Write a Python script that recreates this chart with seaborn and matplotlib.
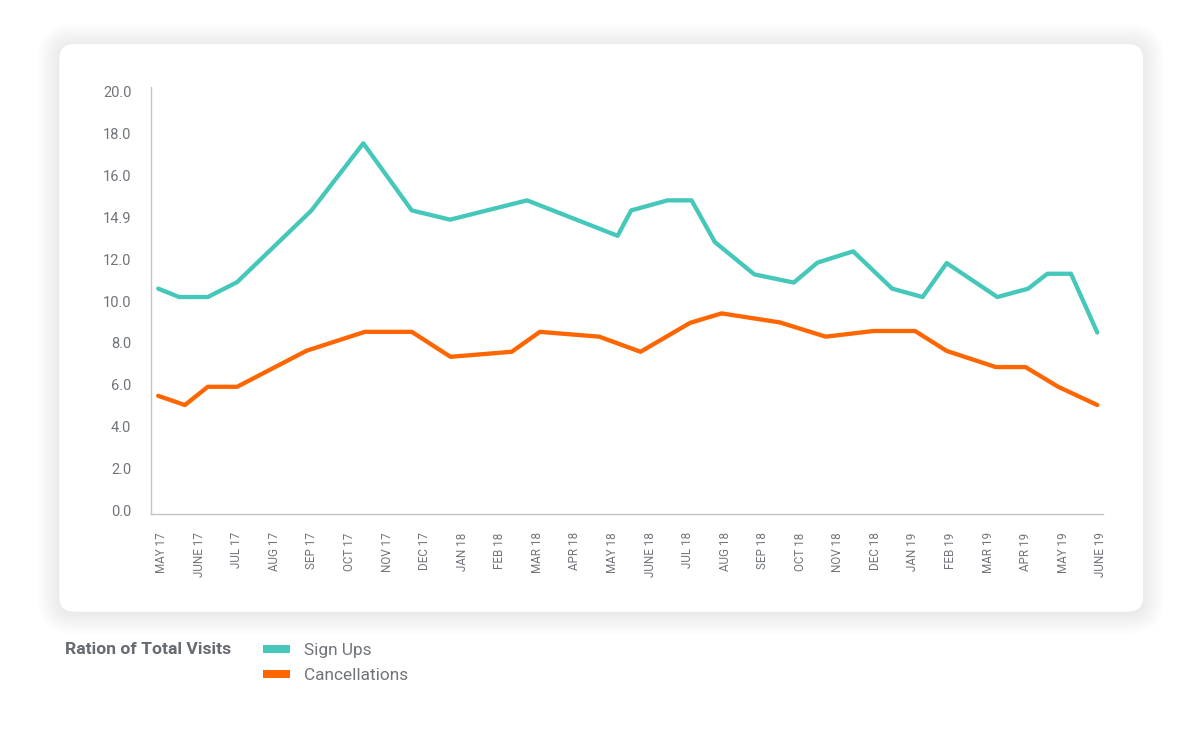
import numpy as np
import pandas as pd
import matplotlib
matplotlib.use("Agg")
import matplotlib.pyplot as plt
import matplotlib.transforms as mtransforms
from matplotlib.patches import FancyBboxPatch, Rectangle
import seaborn as sns

# ---------------- data ----------------
month_labels = ["MAY 17", "JUNE 17", "JUL 17", "AUG 17", "SEP 17", "OCT 17", "NOV 17",
                "DEC 17", "JAN 18", "FEB 18", "MAR 18", "APR 18", "MAY 18", "JUNE 18",
                "JUL 18", "AUG 18", "SEP 18", "OCT 18", "NOV 18", "DEC 18", "JAN 19",
                "FEB 19", "MAR 19", "APR 19", "MAY 19", "JUNE 19"]

signups_x = [0, 0.56, 1.32, 2.10, 4.08, 5.46, 6.75, 7.77, 9.82, 12.23, 12.59, 13.56, 14.20,
             14.82, 15.87, 16.92, 17.55, 18.50, 19.54, 20.35, 20.99, 22.34, 23.16, 23.67,
             24.30, 25.0]
signups_y = [10.59, 10.19, 10.19, 10.90, 14.32, 17.52, 14.32, 13.88, 14.80, 13.11, 14.32,
             14.80, 14.80, 12.81, 11.27, 10.88, 11.83, 12.37, 10.59, 10.19, 11.81, 10.19,
             10.59, 11.30, 11.30, 8.50]

cancel_x = [0, 0.71, 1.32, 2.10, 3.95, 5.50, 6.75, 7.78, 9.41, 10.16, 11.74, 12.84, 14.16,
            15.00, 16.55, 17.77, 19.04, 20.15, 20.99, 22.30, 23.09, 23.96, 25.0]
cancel_y = [5.48, 5.04, 5.91, 5.91, 7.63, 8.53, 8.53, 7.34, 7.58, 8.53, 8.30, 7.58, 8.96,
            9.41, 8.98, 8.30, 8.57, 8.57, 7.62, 6.85, 6.85, 5.91, 5.04]

y_ticks = [0, 2, 4, 6, 8, 10, 12, 14, 16, 18, 20]
y_tick_labels = ["0.0", "2.0", "4.0", "6.0", "8.0", "10.0", "12.0", "14.9", "16.0", "18.0", "20.0"]

series_names = ["Sign Ups", "Cancellations"]
legend_title = "Ration of Total Visits"

# ---------------- style ----------------
TEAL = "#45C8B9"
ORANGE = "#FF6600"
TEXT = "#70747a"
SPINE = "#c4c4c4"

sns.set_theme(style="white")
plt.rcParams["font.family"] = ["Roboto", "DejaVu Sans"]

df = pd.concat([
    pd.DataFrame({"x": signups_x, "y": signups_y, "series": series_names[0]}),
    pd.DataFrame({"x": cancel_x, "y": cancel_y, "series": series_names[1]}),
], ignore_index=True)

W, H = 1200, 730
fig = plt.figure(figsize=(W / 100, H / 100), dpi=100)
fig.patch.set_facecolor("white")

# card with soft shadow (inches)
cx0, cy0 = 59.3 / 100, (H - 611.7) / 100
cw, ch = (1143 - 59.3) / 100, (611.7 - 44) / 100
n_layers = 20
for i in range(n_layers, 0, -1):
    e = i * 0.011
    fig.add_artist(FancyBboxPatch((cx0 - e, cy0 - e - 0.01), cw + 2 * e, ch + 2 * e,
                                  boxstyle=f"round,pad=0,rounding_size={0.15 + e}",
                                  transform=fig.dpi_scale_trans, facecolor="black",
                                  edgecolor="none", alpha=0.0032, zorder=-3))
fig.add_artist(FancyBboxPatch((cx0, cy0), cw, ch, boxstyle="round,pad=0,rounding_size=0.15",
                              transform=fig.dpi_scale_trans, facecolor="white",
                              edgecolor="none", zorder=-2))

left, right = 150.7 / W, 1103.3 / W
top, bottom = 1 - 86.7 / H, 1 - 514.3 / H
ax = fig.add_axes([left, bottom, right - left, top - bottom])
ax.set_facecolor("none")

sns.lineplot(data=df, x="x", y="y", hue="series", palette=[TEAL, ORANGE],
             hue_order=series_names, estimator=None, sort=False, lw=3.1,
             legend=False, ax=ax, solid_capstyle="round")

ax.set_xlim(-0.2, 25.16)
ax.set_ylim(-0.17, 20.22)
ax.set_xticks(range(len(month_labels)))
ax.set_xticklabels(month_labels, rotation=90, fontsize=8.4, color=TEXT, va="top", ha="center")
ax.set_yticks(y_ticks)
ax.set_yticklabels(y_tick_labels, fontsize=10.5, color=TEXT)
ax.tick_params(axis="x", length=0, pad=13)
ax.tick_params(axis="y", length=0, pad=14)
ax.set_xlabel("")
ax.set_ylabel("")
for s in ["top", "right"]:
    ax.spines[s].set_visible(False)
for s in ["left", "bottom"]:
    ax.spines[s].set_color(SPINE)
    ax.spines[s].set_linewidth(1.0)

offset = mtransforms.ScaledTranslation(0.035, 0, fig.dpi_scale_trans)
for lab in ax.get_xticklabels():
    lab.set_transform(lab.get_transform() + offset)

# legend below the card
fig.text(65 / W, 1 - 650 / H, legend_title, fontsize=12.6, fontweight="bold",
         color="#666a71", va="center", ha="left")
for name, col, yc in [(series_names[0], TEAL, 649), (series_names[1], ORANGE, 674)]:
    fig.add_artist(Rectangle((263 / W, 1 - (yc + 3.5) / H), 26.5 / W, 7.5 / H,
                             transform=fig.transFigure, facecolor=col, edgecolor="none"))
    fig.text(304 / W, 1 - (yc + 1) / H, name, fontsize=12.4, color=TEXT, va="center", ha="left")

fig.savefig("out.png", dpi=100, facecolor="white")
